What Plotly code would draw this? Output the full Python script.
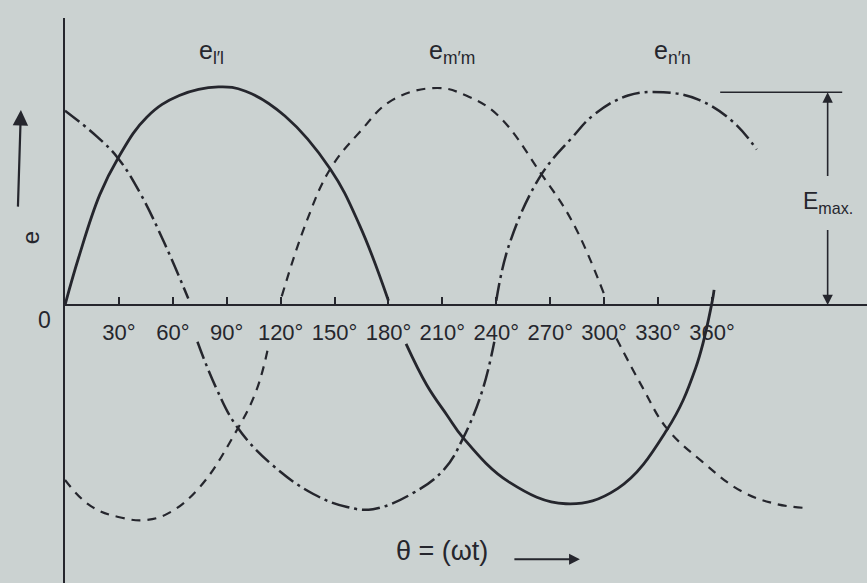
import plotly.graph_objects as go

# Three-phase EMF waveforms, angle in degrees, value as a fraction of E_max
ll_angle = [0, 7.6, 19.3, 29.5, 45.5, 63.6, 85.4, 100.5, 122.4, 147.6, 163.9, 180,
            None, 189.8, 201.3, 212.6, 221.6, 247.2, 278.7, 307.5, 334.8, 351, 360, 361.2]
ll_value = [0, 0.22, 0.51, 0.68, 0.87, 0.97, 1.01, 0.99, 0.875, 0.63, 0.37, 0.02,
            None, -0.18, -0.37, -0.51, -0.615, -0.82, -0.92, -0.85, -0.58, -0.29, 0.01, 0.07]

mm_angle = [0, 14.2, 31.6, 45.5, 58.4, 75.3, 94.2, 106.3, 113.2,
            None, 120.6, 134.1, 147.6, 163.9, 182.3, 207.1, 223.2, 240.7, 264.8, 282.7, 300,
            None, 306.9, 321.3, 334.8, 354.6, 376.0, 395.2, 412.6]
mm_value = [-0.81, -0.93, -0.985, -0.995, -0.96, -0.84, -0.60, -0.40, -0.19,
            None, 0.04, 0.38, 0.63, 0.80, 0.95, 1.005, 0.97, 0.88, 0.61, 0.38, 0.05,
            None, -0.155, -0.38, -0.57, -0.725, -0.86, -0.92, -0.94]

nn_angle = [0, 17.8, 29.5, 41.7, 55.7, 68.6,
            None, 73.7, 83.9, 95.8, 115.3, 138.2, 157.0, 171.4, 193.8, 211.1, 221.6, 232.1, 238.9,
            None, 240, 247.2, 264.8, 282.7, 294.2, 313.3, 333, 352.8, 372.2, 384.9]
nn_value = [0.90, 0.78, 0.68, 0.52, 0.28, 0.03,
            None, -0.17, -0.38, -0.565, -0.74, -0.875, -0.935, -0.945, -0.87, -0.76, -0.615, -0.40, -0.17,
            None, 0.02, 0.28, 0.60, 0.78, 0.88, 0.97, 0.985, 0.95, 0.845, 0.72]

E_MAX = 0.985

tick_angles = [30, 60, 90, 120, 150, 180, 210, 240, 270, 300, 330, 360]
tick_text = ["30°", "60°", "90°", "120°", "150°", "180°", "210°", "240°", "270°", "300°", "330°", "360°"]

INK = "#25262d"
PAPER = "#cbd2d1"
FONT = "Liberation Sans, Arial, sans-serif"

X_RANGE = [0, 446.3]
Y_RANGE = [-1.287, 1.329]
SMOOTH = 1.15

fig = go.Figure()

fig.add_trace(go.Scatter(
    x=ll_angle, y=ll_value, mode="lines", connectgaps=False,
    line=dict(color=INK, width=2.8, shape="spline", smoothing=SMOOTH),
    name="e l'l"))
fig.add_trace(go.Scatter(
    x=mm_angle, y=mm_value, mode="lines", connectgaps=False,
    line=dict(color=INK, width=2.2, shape="spline", smoothing=SMOOTH, dash="9px,7px"),
    name="e m'm"))
fig.add_trace(go.Scatter(
    x=nn_angle, y=nn_value, mode="lines", connectgaps=False,
    line=dict(color=INK, width=2.5, shape="spline", smoothing=SMOOTH, dash="18px,5px,3px,5px"),
    name="e n'n"))

# E_max dimension: reference line at the peak and a double arrow down to the axis
fig.add_shape(type="line", xref="x", yref="y", x0=364.6, x1=432.5, y0=E_MAX, y1=E_MAX,
              line=dict(color=INK, width=1.6))
fig.add_annotation(x=424.4, y=E_MAX, ax=424.4, ay=E_MAX * 0.60, xref="x", yref="y",
                   axref="x", ayref="y", text="", showarrow=True, arrowhead=2,
                   arrowsize=1.3, arrowwidth=1.6, arrowcolor=INK)
fig.add_annotation(x=424.4, y=0, ax=424.4, ay=E_MAX * 0.36, xref="x", yref="y",
                   axref="x", ayref="y", text="", showarrow=True, arrowhead=2,
                   arrowsize=1.3, arrowwidth=1.6, arrowcolor=INK)
fig.add_annotation(x=424.4, y=E_MAX * 0.48, xref="x", yref="y", showarrow=False,
                   text="E<sub>max.</sub>", font=dict(family=FONT, size=23, color=INK))

# Phase labels
for ang, txt in [(81.8, "e<sub>l′l</sub>"), (215.4, "e<sub>m′m</sub>"), (337.8, "e<sub>n′n</sub>")]:
    fig.add_annotation(x=ang, y=1.17, xref="x", yref="y", showarrow=False, text=txt,
                       font=dict(family=FONT, size=25, color=INK))

# Origin, ordinate label and abscissa label
fig.add_annotation(x=-0.036, y=0.465, xref="paper", yref="paper", showarrow=False,
                   text="0", font=dict(family=FONT, size=23, color=INK))
fig.add_annotation(x=-0.063, y=0.612, xref="paper", yref="paper", showarrow=False,
                   text="e", textangle=-90, font=dict(family=FONT, size=24, color=INK))
fig.add_annotation(x=-0.055, y=0.837, ax=-3, ay=98, xref="paper", yref="paper",
                   text="", showarrow=True, arrowhead=2, arrowsize=1.4, arrowwidth=2.2,
                   arrowcolor=INK)
fig.add_annotation(x=0.470, y=0.026, xref="paper", yref="paper", showarrow=False,
                   text="θ\u00a0=\u00a0(ωt)", font=dict(family=FONT, size=27, color=INK))
fig.add_annotation(x=0.642, y=0.042, ax=-67, ay=0, xref="paper", yref="paper",
                   text="", showarrow=True, arrowhead=2, arrowsize=1.2, arrowwidth=1.8,
                   arrowcolor=INK)

axis_pos = (0 - Y_RANGE[0]) / (Y_RANGE[1] - Y_RANGE[0])

fig.update_layout(
    width=867, height=583,
    margin=dict(l=65, r=0, t=18, b=0),
    paper_bgcolor=PAPER, plot_bgcolor=PAPER,
    showlegend=False,
    xaxis=dict(range=X_RANGE, tickvals=tick_angles, ticktext=tick_text,
               ticks="inside", ticklen=7, tickwidth=2, tickcolor=INK,
               ticklabelstandoff=8,
               tickfont=dict(family=FONT, size=22, color=INK),
               showgrid=False, zeroline=False, showline=True, linecolor=INK, linewidth=2,
               anchor="free", position=axis_pos),
    yaxis=dict(range=Y_RANGE, showgrid=False, zeroline=False, showticklabels=False,
               ticks="", showline=True, linecolor=INK, linewidth=2.2),
)

fig.write_html("out.html")
